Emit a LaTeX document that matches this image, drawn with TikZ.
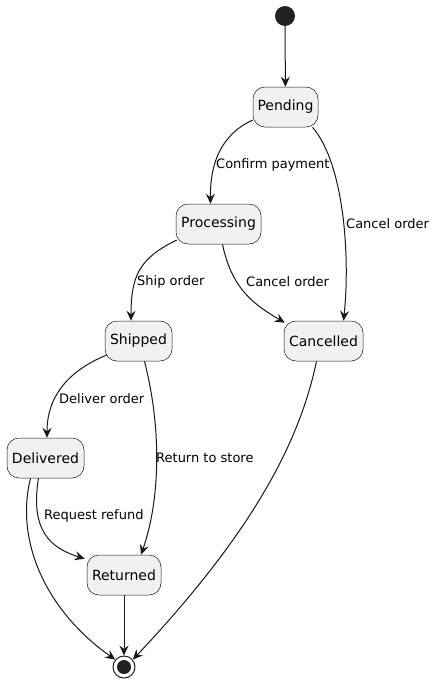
\documentclass[tikz,border=0pt]{standalone}
\usepackage{fontspec}
\setmainfont{DejaVu Sans}
\usetikzlibrary{arrows.meta}
\definecolor{boxfill}{HTML}{F1F1F1}
\definecolor{ink}{HTML}{181818}
\definecolor{dot}{HTML}{222222}
\begin{document}
\begin{tikzpicture}[x=1pt,y=-1pt,
  state/.style={draw=ink,line width=0.5pt,fill=boxfill,rounded corners=12pt,minimum height=40pt,inner sep=0pt,font=\fontsize{14}{16}\selectfont},
  edge/.style={draw=ink,line width=1pt,-{Stealth[length=10pt,width=9pt,inset=3.5pt]}},
  lbl/.style={anchor=west,inner sep=0pt,font=\fontsize{13}{15}\selectfont}]
\useasboundingbox (0,0) rectangle (436,683);
\node[circle,fill=dot,minimum size=20pt,inner sep=0pt] (start) at (285,16) {};
\node[state,minimum width=65pt] (pend) at (285.5,107) {Pending};
\node[state,minimum width=85pt] (proc) at (218.5,224) {Processing};
\node[state,minimum width=79pt] (canc) at (323.5,341) {Cancelled};
\node[state,minimum width=67pt] (ship) at (138.5,341) {Shipped};
\node[state,minimum width=77pt] (deliv) at (45.5,458) {Delivered};
\node[state,minimum width=74pt] (ret) at (124,575) {Returned};
\node[circle,draw=dot,line width=1pt,fill=white,minimum size=22pt,inner sep=0pt] (end) at (124,667) {};
\node[circle,fill=dot,minimum size=14pt,inner sep=0pt] (endin) at (end.center) {};

\draw[edge] (start) -- (pend);
\draw[edge] ([yshift=-13pt]pend.west) .. controls (220,135) and (210,165) .. ([xshift=-8pt]proc.north);
\node[lbl] (l1) at (216,165) {Confirm payment};
\draw[edge] ([xshift=27pt]pend.south) .. controls (345,165) and (350,260) .. ([xshift=20pt]canc.north);
\node[lbl] (l2) at (346,224) {Cancel order};
\draw[edge] ([xshift=4pt]proc.south) .. controls (232,290) and (255,305) .. ([xshift=1pt,yshift=-2pt]canc.north west);
\node[lbl] (l3) at (246,282) {Cancel order};
\draw[edge] ([xshift=1pt,yshift=-16pt]proc.west) .. controls (140,258) and (131,275) .. ([xshift=-7.5pt]ship.north);
\node[lbl] (l4) at (137,282) {Ship order};
\draw[edge] ([xshift=2pt,yshift=-14pt]ship.west) .. controls (70,370) and (47,395) .. ([xshift=1.5pt]deliv.north);
\node[lbl] (l5) at (59,399) {Deliver order};
\draw[edge] ([xshift=6pt]ship.south) .. controls (162,430) and (160,500) .. ([xshift=17pt]ret.north);
\node[lbl] (l6) at (156,458) {Return to store};
\draw[edge] ([xshift=-7pt]deliv.south) .. controls (30,530) and (50,548) .. ([xshift=-2pt,yshift=-4pt]ret.north west);
\node[lbl] (l7) at (44,516) {Request refund};
\draw[edge] ([xshift=-15pt]deliv.south) .. controls (15,540) and (45,610) .. (end.140);
\draw[edge] (ret) -- (end);
\draw[edge] ([xshift=-7pt]canc.south) .. controls (300,440) and (255,530) .. (end.40);
\end{tikzpicture}
\end{document}
